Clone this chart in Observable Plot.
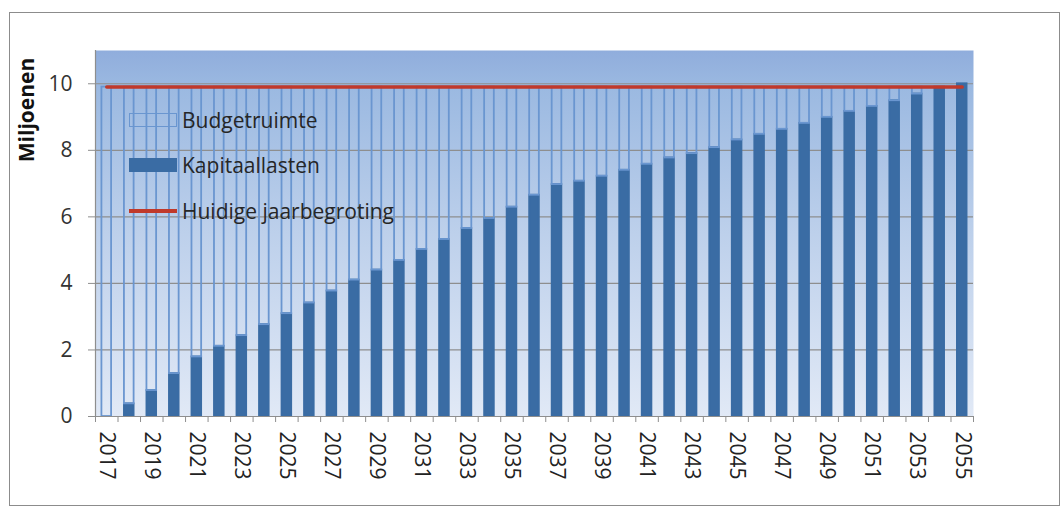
<!DOCTYPE html>
<html>
<head>
<meta charset="utf-8">
<script src="https://cdn.jsdelivr.net/npm/d3@7"></script>
<script src="https://cdn.jsdelivr.net/npm/@observablehq/plot@0.6"></script>
<style>
  html, body { margin: 0; padding: 0; background: #fff; }
  #wrap { position: relative; width: 1062px; height: 506px; overflow: hidden; font-family: "Open Sans", sans-serif; }
  #border { position: absolute; left: 9px; top: 12px; width: 1051px; height: 494px; border: 1px solid #8c8c8c; box-sizing: border-box; pointer-events: none; }
  #ylabel { position: absolute; left: 26px; top: 110px; transform: translate(-50%, -50%) rotate(-90deg); font-weight: bold; font-size: 21px; color: #111; white-space: nowrap; }
  #legend { position: absolute; left: 129px; top: 97px; }
  .lrow { display: flex; align-items: center; height: 45.5px; font-size: 21px; color: #262626; }
  .sw { width: 48px; margin-right: 5px; box-sizing: border-box; }
  #chart svg { position: absolute; left: 0; top: 0; }
</style>
</head>
<body>
<div id="wrap">
  <div id="border"></div>
  <div id="chart"></div>
  <div id="ylabel">Miljoenen</div>
  <div id="legend"></div>
</div>
<script>
const years = [2017,2018,2019,2020,2021,2022,2023,2024,2025,2026,2027,2028,2029,2030,2031,2032,2033,2034,2035,2036,2037,2038,2039,2040,2041,2042,2043,2044,2045,2046,2047,2048,2049,2050,2051,2052,2053,2054,2055];
const yearLabels = [2017,2019,2021,2023,2025,2027,2029,2031,2033,2035,2037,2039,2041,2043,2045,2047,2049,2051,2053,2055];
const kapitaallasten = [0,0.38,0.78,1.29,1.79,2.11,2.43,2.76,3.09,3.41,3.77,4.10,4.40,4.69,5.02,5.32,5.65,5.95,6.29,6.65,6.97,7.07,7.22,7.40,7.58,7.77,7.90,8.08,8.31,8.48,8.63,8.81,8.99,9.17,9.32,9.49,9.69,9.90,10.0];
const budgetruimte = [9.9,9.52,9.12,8.61,8.11,7.79,7.47,7.14,6.81,6.49,6.13,5.80,5.50,5.21,4.88,4.58,4.25,3.95,3.61,3.25,2.93,2.83,2.68,2.50,2.32,2.13,2.00,1.82,1.59,1.42,1.27,1.09,0.91,0.73,0.58,0.41,0.21,0,0];
const jaarbegroting = [9.9,9.9,9.9,9.9,9.9,9.9,9.9,9.9,9.9,9.9,9.9,9.9,9.9,9.9,9.9,9.9,9.9,9.9,9.9,9.9,9.9,9.9,9.9,9.9,9.9,9.9,9.9,9.9,9.9,9.9,9.9,9.9,9.9,9.9,9.9,9.9,9.9,9.9,9.9];
const yTicks = [0,2,4,6,8,10];
const seriesNames = ["Kapitaallasten","Budgetruimte"];
const lineName = "Huidige jaarbegroting";

const darkBlue = "#3a6ca4";
const outlineBlue = "#6a96d0";
const red = "#c0392b";
const gridGray = "#8e8e8e";

const W = 1062, H = 506, mL = 95, mR = 89, mT = 50, mB = 90;
const step = (W - mL - mR) / years.length;

const rows = [];
years.forEach((yr, i) => {
  rows.push({year: yr, series: "Kapitaallasten", value: kapitaallasten[i]});
  rows.push({year: yr, series: "Budgetruimte", value: budgetruimte[i]});
});
const lineRows = years.map((yr, i) => ({year: yr, value: jaarbegroting[i]}));

const plot = Plot.plot({
  width: W, height: H,
  marginLeft: mL, marginRight: mR, marginTop: mT, marginBottom: mB,
  style: {fontFamily: "Open Sans, sans-serif", fontSize: "21px", color: "#333", background: "transparent", overflow: "visible"},
  x: {type: "band", domain: years, paddingInner: 0.57, paddingOuter: 0.285, round: false, label: null},
  y: {domain: [0, 11], label: null},
  marks: [
    Plot.frame({fill: "url(#bgGrad)", stroke: null}),
    Plot.gridY(yTicks.filter(d => d > 0), {stroke: gridGray, strokeOpacity: 1, strokeWidth: 1.2}),
    Plot.barY(rows, Plot.stackY({
      x: "year", y: "value", order: seriesNames,
      fill: d => d.series === "Kapitaallasten" ? darkBlue : "none",
      stroke: d => d.series === "Kapitaallasten" ? darkBlue : outlineBlue,
      strokeWidth: 1.8
    })),
    Plot.lineY(lineRows, {x: "year", y: "value", stroke: red, strokeWidth: 3.5}),
    Plot.ruleY([0], {stroke: gridGray, strokeWidth: 1.2}),
    Plot.axisY({ticks: yTicks, tickSize: 7, tickPadding: 16, stroke: gridGray, fill: "#333"}),
    Plot.axisX({ticks: yearLabels, tickFormat: d => String(d), tickSize: 0, tickPadding: 15, tickRotate: 90, fill: "#222"}),
    Plot.axisX({ticks: years, tickSize: 6, text: null, dx: -step / 2, stroke: gridGray}),
    Plot.axisX({ticks: [years[years.length - 1]], tickSize: 6, text: null, dx: step / 2, stroke: gridGray}),
    Plot.frame({anchor: "left", stroke: gridGray, strokeWidth: 1.2})
  ]
});

d3.select(plot).insert("defs", ":first-child").html(
  `<linearGradient id="bgGrad" x1="0" y1="0" x2="0" y2="1">
     <stop offset="0" stop-color="#90addc"/>
     <stop offset="0.1" stop-color="#9bb9e1"/>
     <stop offset="0.5" stop-color="#bdd0eb"/>
     <stop offset="1" stop-color="#e1e9f6"/>
   </linearGradient>`
);
document.getElementById("chart").appendChild(plot);

// legend
const legendItems = [
  {name: "Budgetruimte", kind: "outline"},
  {name: "Kapitaallasten", kind: "fill"},
  {name: lineName, kind: "line"}
];
const lg = d3.select("#legend");
legendItems.forEach(it => {
  const row = lg.append("div").attr("class", "lrow");
  const sw = row.append("div").attr("class", "sw");
  if (it.kind === "outline") sw.style("height", "14px").style("border", `1.5px solid ${outlineBlue}`);
  else if (it.kind === "fill") sw.style("height", "14px").style("background", darkBlue);
  else sw.style("height", "3.5px").style("background", red);
  row.append("span").text(it.name);
});
</script>
</body>
</html>
